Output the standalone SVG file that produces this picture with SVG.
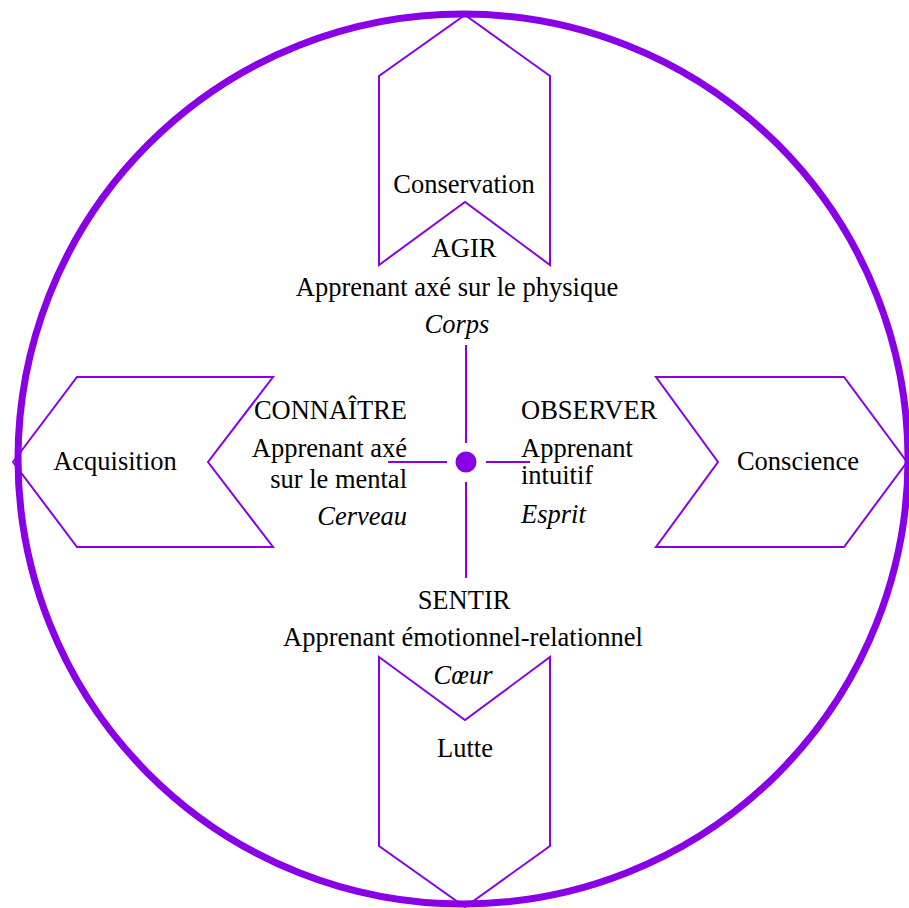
<svg xmlns="http://www.w3.org/2000/svg" width="909" height="908" viewBox="0 0 909 908">
<style>
.chev{fill:none;stroke:#8a00e6;stroke-width:2}
.ln{stroke:#8a00e6;stroke-width:2}
.c{text-anchor:middle}
.r{text-anchor:end}
.i{font-style:italic}
</style>
<rect width="909" height="908" fill="#fff"/>
<circle cx="463" cy="459" r="445" fill="none" stroke="#8a00e6" stroke-width="7"/>
<g font-family="'Liberation Serif', serif" font-size="26.5" fill="#000">
<g id="conservation">
<polygon class="chev" points="465,15 550,76 550,265 465,202 379,265 379,76"/>
<text class="c" x="464" y="193">Conservation</text>
</g>
<g id="acquisition">
<polygon class="chev" points="13,462 77,377 273,377 208,462 273,547 77,547"/>
<text class="c" x="115" y="470">Acquisition</text>
</g>
<g id="conscience">
<polygon class="chev" points="656,377 844,377 907,462 844,547 656,547 718,462"/>
<text class="c" x="798" y="470">Conscience</text>
</g>
<g id="lutte">
<polygon class="chev" points="379,657 465,720 550,657 550,846 465,907 379,846"/>
<text class="c" x="465" y="757">Lutte</text>
</g>
<g id="agir">
<text class="c" x="464" y="257">AGIR</text>
<text class="c" x="457" y="296">Apprenant axé sur le physique</text>
<text class="c i" x="457" y="333">Corps</text>
</g>
<g id="connaitre">
<text class="r" x="407" y="419">CONNAÎTRE</text>
<text class="r" x="407" y="457">Apprenant axé</text>
<text class="r" x="407" y="488">sur le mental</text>
<text class="r i" x="407" y="525">Cerveau</text>
</g>
<g id="observer">
<text x="521" y="419">OBSERVER</text>
<text x="521" y="457">Apprenant</text>
<text x="521" y="484">intuitif</text>
<text class="i" x="521" y="523">Esprit</text>
</g>
<g id="sentir">
<text class="c" x="464" y="609">SENTIR</text>
<text class="c" x="463" y="646">Apprenant émotionnel-relationnel</text>
<text class="c i" x="463" y="684">Cœur</text>
</g>
</g>
<g id="connectors">
<line class="ln" x1="466" y1="345" x2="466" y2="443"/>
<line class="ln" x1="466" y1="482" x2="466" y2="578"/>
<line class="ln" x1="388" y1="462" x2="447" y2="462"/>
<line class="ln" x1="486" y1="462" x2="530" y2="462"/>
</g>
<g id="center">
<circle cx="466" cy="462" r="10.5" fill="#8a00e6"/>
</g>
</svg>
